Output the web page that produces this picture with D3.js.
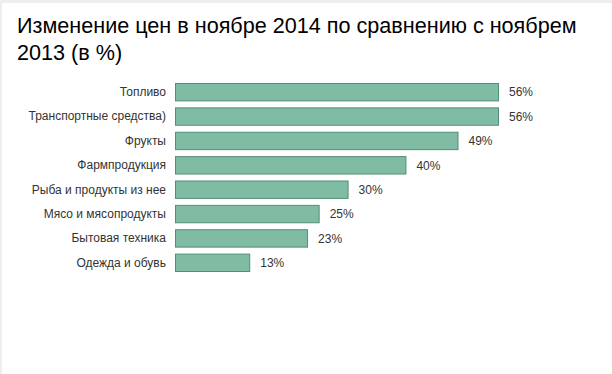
<!DOCTYPE html>
<html>
<head>
<meta charset="utf-8">
<script src="https://cdn.jsdelivr.net/npm/d3@7"></script>
<style>
  body { margin: 0; background: #fff; }
  svg { display: block; font-family: "Liberation Sans", Arial, sans-serif; }
</style>
</head>
<body>
<div id="vis"></div>
<script>
// Declare constants
const FRAME_WIDTH = 612;
const FRAME_HEIGHT = 374;
const MARGINS = {left: 175, top: 83};

// data
const TITLE_LINES = ["Изменение цен в ноябре 2014 по сравнению с ноябрем", "2013 (в %)"];
const CATEGORIES = ["Топливо", "Транспортные средства)", "Фрукты", "Фармпродукция",
                    "Рыба и продукты из нее", "Мясо и мясопродукты", "Бытовая техника", "Одежда и обувь"];
const VALUES = [56, 56, 49, 40, 30, 25, 23, 13];

const FRAME = d3.select("#vis")
                .append("svg")
                  .attr("width", FRAME_WIDTH)
                  .attr("height", FRAME_HEIGHT);

// light frame on the top and left
FRAME.append("rect")
       .attr("x", 0).attr("y", 0)
       .attr("width", FRAME_WIDTH).attr("height", 3)
       .attr("fill", "#eeeeee");
FRAME.append("rect")
       .attr("x", 0).attr("y", 0)
       .attr("width", 2).attr("height", FRAME_HEIGHT)
       .attr("fill", "#eeeeee");

// title
FRAME.append("g")
     .selectAll("text")
     .data(TITLE_LINES)
     .enter()
     .append("text")
       .attr("x", 17)
       .attr("y", (d, i) => 33 + i * 27)
       .attr("font-size", "21.6px")
       .attr("fill", "#000")
       .text((d) => d);

// scales
const X_SCALE = d3.scaleLinear()
                    .domain([0, 56])
                    .range([0, 324]);

const Y_SCALE = d3.scaleBand()
                    .domain(CATEGORIES)
                    .range([0, 189])
                    .paddingInner(0.245)
                    .paddingOuter(0);

const data = CATEGORIES.map((c, i) => ({cat: c, val: VALUES[i]}));

const G = FRAME.append("g")
               .attr("transform", "translate(" + MARGINS.left + "," + MARGINS.top + ")");

// bars
G.selectAll(".bar")
   .data(data)
   .enter()
   .append("rect")
     .attr("class", "bar")
     .attr("x", 0.5)
     .attr("y", (d) => Y_SCALE(d.cat) + 0.5)
     .attr("width", (d) => X_SCALE(d.val) - 1)
     .attr("height", Y_SCALE.bandwidth() - 1)
     .attr("fill", "#80bba4")
     .attr("stroke", "#528f77")
     .attr("stroke-width", 1);

// value labels
G.selectAll(".val")
   .data(data)
   .enter()
   .append("text")
     .attr("class", "val")
     .attr("x", (d) => X_SCALE(d.val) + 10)
     .attr("y", (d) => Y_SCALE(d.cat) + Y_SCALE.bandwidth() / 2)
     .attr("dy", "0.35em")
     .attr("font-size", "12px")
     .attr("fill", "#333")
     .text((d) => d.val + "%");

// category axis
const yAxis = G.append("g")
               .call(d3.axisLeft(Y_SCALE).tickSize(0).tickPadding(9));
yAxis.select(".domain").remove();
yAxis.selectAll("text")
       .attr("font-size", "12px")
       .attr("font-family", "'Liberation Sans', Arial, sans-serif")
       .attr("fill", "#333");
</script>
</body>
</html>
